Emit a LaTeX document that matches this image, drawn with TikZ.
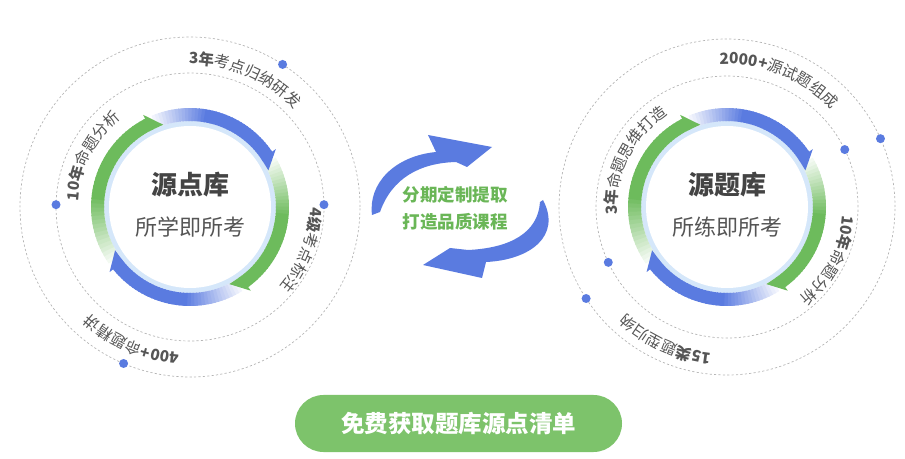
\documentclass[tikz,border=0pt]{standalone}
\usepackage{fontspec}
\setmainfont{Noto Sans CJK SC}
\usetikzlibrary{decorations.text}
\definecolor{ringblue}{HTML}{5A7BE0}
\definecolor{ringgreen}{HTML}{6DBB5C}
\definecolor{btngreen}{HTML}{7DC36B}
\definecolor{midgreen}{HTML}{6AB657}
\definecolor{dotblue}{HTML}{5A7BE0}
\definecolor{dashgray}{HTML}{B4B4B4}
\definecolor{labelgray}{HTML}{555555}
\definecolor{titlegray}{HTML}{444444}
\definecolor{innerblue}{HTML}{D5E7FA}
\tikzset{
  dashring/.style={dashgray, line width=0.7pt, dash pattern=on 2.2pt off 2.2pt},
  bluedot/.style={fill=dotblue},
}
\newcommand{\ringband}[4]{%
  \pgfmathsetmacro{\rbstep}{((#2)-(#3)-8)/40}%
  \foreach \k in {0,...,39}{%
    \pgfmathsetmacro{\rba}{(#2)-\k*\rbstep}%
    \pgfmathsetmacro{\rbb}{\rba-\rbstep-0.8}%
    \pgfmathtruncatemacro{\rbp}{min(100,8+\k*92/16)}%
    \draw[line width=13pt,color=#4!\rbp!white] ([shift={(\rba:92.5pt)}]#1) arc[start angle=\rba,end angle=\rbb,radius=92.5pt];%
  }%
}
\newcommand{\ringhead}[3]{%
  \fill[#3] ([shift={({#2+9}:86pt)}]#1) -- ([shift={({#2+9}:103.5pt)}]#1) -- ([shift={(#2:86.5pt)}]#1) -- cycle;}
\newcommand{\arclabel}[4]{%
  {\fontsize{15.5pt}{17pt}\selectfont
  \path[decorate,decoration={text along path,text color=labelgray,text={#4}}]
    ([shift={(#3:#2)}]#1) arc[start angle=#3,end angle={#3-85},radius=#2];}}
\begin{document}
\begin{tikzpicture}[x=1pt,y=1pt]
\useasboundingbox (0,0) rectangle (905,458);
\coordinate (L) at (190,251);
\coordinate (R) at (727,251);
% dashed circles
\draw[dashring] (L) circle[radius=170pt];
\draw[dashring] (L) circle[radius=134pt];
\draw[dashring] (R) circle[radius=168pt];
\draw[dashring] (R) circle[radius=131pt];
% inner discs
\fill[innerblue] (L) circle[radius=86pt];
\fill[white] (L) circle[radius=81pt];
\fill[innerblue] (R) circle[radius=86pt];
\fill[white] (R) circle[radius=81pt];
% ring bands
\ringband{L}{113}{25}{ringblue}
\ringband{L}{30}{-63}{ringgreen}
\ringband{L}{-58}{-150}{ringblue}
\ringband{L}{215}{108}{ringgreen}
\ringhead{L}{25}{ringblue}
\ringhead{L}{-63}{ringgreen}
\ringhead{L}{-150}{ringblue}
\ringhead{L}{108}{ringgreen}
\ringband{R}{113}{25}{ringblue}
\ringband{R}{30}{-63}{ringgreen}
\ringband{R}{-58}{-150}{ringblue}
\ringband{R}{215}{108}{ringgreen}
\ringhead{R}{25}{ringblue}
\ringhead{R}{-63}{ringgreen}
\ringhead{R}{-150}{ringblue}
\ringhead{R}{108}{ringgreen}
% centre texts
\node[font=\bfseries\fontsize{26pt}{28pt}\selectfont, text=titlegray] (lt) at (190,273) {源点库};
\node[font=\fontsize{22pt}{24pt}\selectfont, text=labelgray] (ls) at (190,231) {所学即所考};
\node[font=\bfseries\fontsize{26pt}{28pt}\selectfont, text=titlegray] (rt) at (727,273) {源题库};
\node[font=\fontsize{22pt}{24pt}\selectfont, text=labelgray] (rs) at (727,231) {所练即所考};
% arc labels
\arclabel{L}{143pt}{90.5}{|\bfseries|3年|\mdseries|考点归纳研发}
\arclabel{L}{112pt}{177}{|\bfseries|10年|\mdseries|命题分析}
\arclabel{L}{120pt}{0}{|\bfseries|4级|\mdseries|考点标注}
\arclabel{L}{146pt}{266}{|\bfseries|400+|\mdseries|命题精讲}
\arclabel{R}{143pt}{93}{|\bfseries|2000+|\mdseries|源试题组成}
\arclabel{R}{110pt}{184}{|\bfseries|3年|\mdseries|命题思维打造}
\arclabel{R}{116pt}{-4}{|\bfseries|10年|\mdseries|命题分析}
\arclabel{R}{147pt}{264}{|\bfseries|15类|\mdseries|题型归纳}
% dots
\fill[bluedot] ([shift={(57:170pt)}]L) circle[radius=4.5pt];
\fill[bluedot] ([shift={(179:134pt)}]L) circle[radius=4.5pt];
\fill[bluedot] ([shift={(1:134pt)}]L) circle[radius=4.5pt];
\fill[bluedot] ([shift={(247:170pt)}]L) circle[radius=4.5pt];
\fill[bluedot] ([shift={(26:131pt)}]R) circle[radius=4.5pt];
\fill[bluedot] ([shift={(24:168pt)}]R) circle[radius=4.5pt];
\fill[bluedot] ([shift={(205:131pt)}]R) circle[radius=4.5pt];
\fill[bluedot] ([shift={(213:168pt)}]R) circle[radius=4.5pt];
% middle arrows
\fill[ringblue] (372,243) .. controls (368,275) and (395,302) .. (436,306) -- (428,323) -- (492,311) -- (467,291) -- (456,296) .. controls (420,295) and (392,280) .. (380,246) -- cycle;
\fill[ringblue] (543,258) .. controls (562,222) and (530,198) .. (486,196) -- (482,180) -- (423,193) -- (450,210) -- (468,208) .. controls (510,210) and (538,225) .. (540,256) -- cycle;
\node[font=\bfseries\fontsize{17.5pt}{19pt}\selectfont, text=midgreen] (m1) at (455,263) {分期定制提取};
\node[font=\bfseries\fontsize{17.5pt}{19pt}\selectfont, text=midgreen] (m2) at (455,236.5) {打造品质课程};
% button
\node[fill=btngreen, rounded corners=28.5pt, minimum width=327pt, minimum height=57pt, inner sep=0pt, text=white, font=\bfseries\fontsize{23.5pt}{25pt}\selectfont] (btn) at (458.5,34.5) {免费获取题库源点清单};
\end{tikzpicture}
\end{document}
